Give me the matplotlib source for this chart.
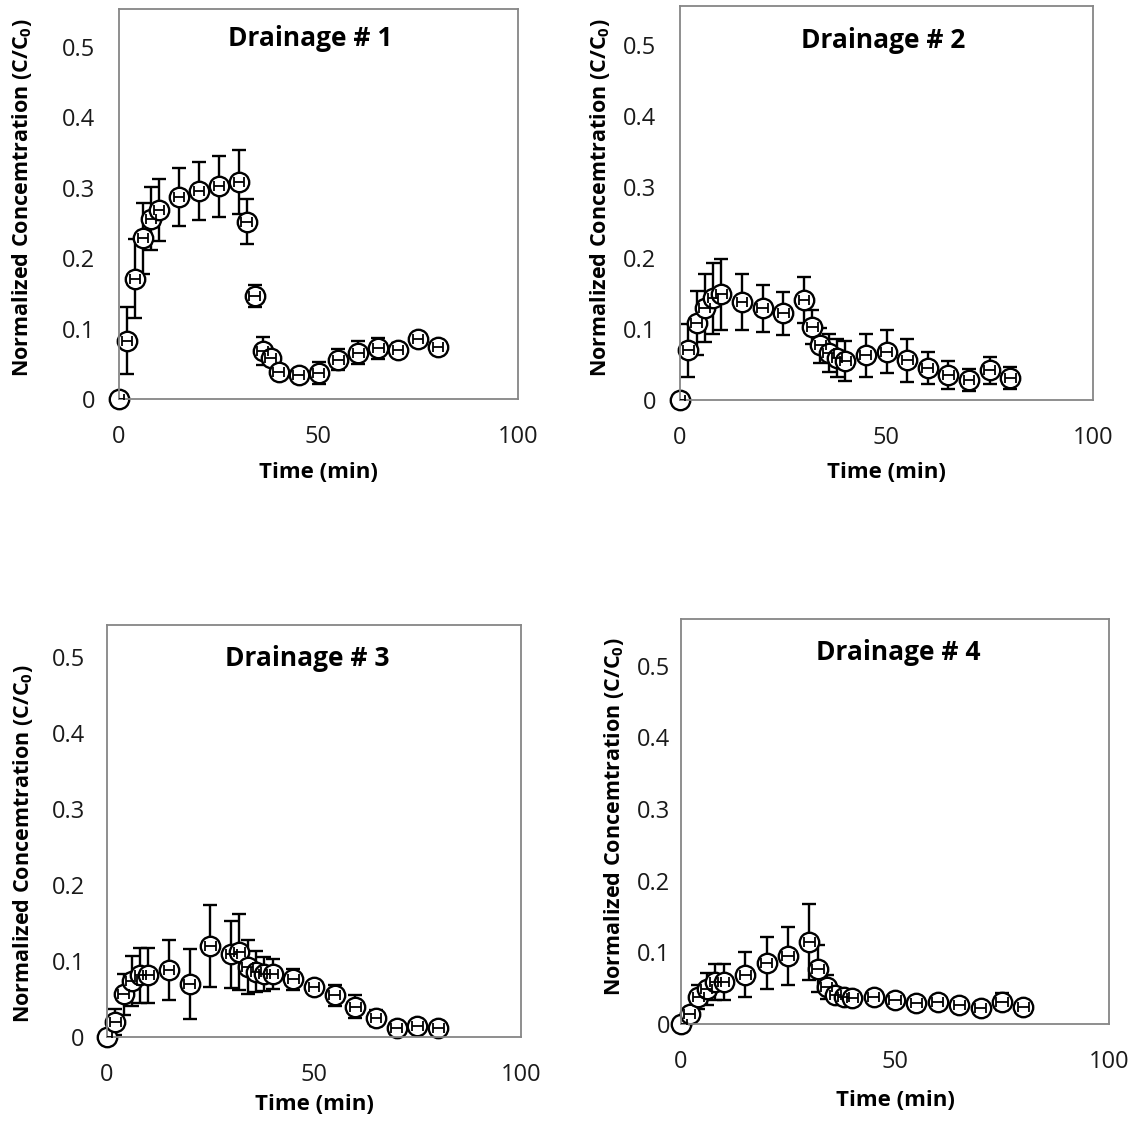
import numpy as np
import matplotlib
matplotlib.use('Agg')
import matplotlib.pyplot as plt

plt.rcParams['font.family'] = ['Open Sans', 'DejaVu Sans']
plt.rcParams['mathtext.fontset'] = 'custom'
plt.rcParams['mathtext.rm'] = 'Open Sans'
plt.rcParams['mathtext.bf'] = 'Open Sans:bold'

# sampling times (min) and normalized concentration with std dev for each drain
t1 = [0, 2, 4, 6, 8, 10, 15, 20, 25, 30, 32, 34, 36, 38, 40, 45, 50, 55, 60, 65, 70, 75, 80]
c1 = [0, 0.083, 0.171, 0.228, 0.256, 0.269, 0.287, 0.295, 0.302, 0.308, 0.252, 0.146,
      0.068, 0.058, 0.039, 0.034, 0.037, 0.056, 0.066, 0.072, 0.070, 0.085, 0.074]
e1 = [0, 0.048, 0.056, 0.050, 0.045, 0.044, 0.041, 0.041, 0.043, 0.045, 0.032, 0.016,
      0.020, 0.007, 0.006, 0.004, 0.015, 0.015, 0.016, 0.015, 0.010, 0.005, 0.004]

t2 = [0, 2, 4, 6, 8, 10, 15, 20, 25, 30, 32, 34, 36, 38, 40, 45, 50, 55, 60, 65, 70, 75, 80]
c2 = [0, 0.070, 0.109, 0.130, 0.143, 0.149, 0.138, 0.129, 0.122, 0.141, 0.103, 0.077,
      0.066, 0.059, 0.055, 0.063, 0.068, 0.056, 0.045, 0.035, 0.028, 0.042, 0.031]
e2 = [0, 0.037, 0.045, 0.048, 0.050, 0.050, 0.039, 0.033, 0.030, 0.032, 0.024, 0.025,
      0.027, 0.027, 0.028, 0.030, 0.030, 0.030, 0.023, 0.020, 0.016, 0.019, 0.015]

t3 = [0, 2, 4, 6, 8, 10, 15, 20, 25, 30, 32, 34, 36, 38, 40, 45, 50, 55, 60, 65, 70, 75, 80]
c3 = [0, 0.020, 0.056, 0.074, 0.081, 0.081, 0.088, 0.070, 0.120, 0.109, 0.112, 0.092,
      0.086, 0.083, 0.083, 0.076, 0.066, 0.055, 0.040, 0.025, 0.012, 0.015, 0.012]
e3 = [0, 0.017, 0.027, 0.033, 0.036, 0.036, 0.039, 0.046, 0.054, 0.044, 0.050, 0.035,
      0.027, 0.022, 0.020, 0.014, 0.008, 0.014, 0.015, 0.010, 0.003, 0.003, 0.003]

t4 = [0, 2, 4, 6, 8, 10, 15, 20, 25, 30, 32, 34, 36, 38, 40, 45, 50, 55, 60, 65, 70, 75, 80]
c4 = [0, 0.014, 0.038, 0.049, 0.059, 0.059, 0.069, 0.085, 0.095, 0.114, 0.077, 0.052,
      0.040, 0.037, 0.036, 0.037, 0.034, 0.029, 0.031, 0.027, 0.022, 0.031, 0.024]
e4 = [0, 0.003, 0.017, 0.022, 0.025, 0.025, 0.031, 0.036, 0.041, 0.053, 0.033, 0.017,
      0.008, 0.005, 0.003, 0.004, 0.003, 0.003, 0.005, 0.007, 0.007, 0.012, 0.005]

t_err = 1.3  # timing uncertainty (min)

titles = ['Drainage # 1', 'Drainage # 2', 'Drainage # 3', 'Drainage # 4']
xticks = [0, 50, 100]
yticks = [0, 0.1, 0.2, 0.3, 0.4, 0.5]
ytick_labels = ['0', '0.1', '0.2', '0.3', '0.4', '0.5']

W, H = 1134, 1122
fig = plt.figure(figsize=(W / 100, H / 100), dpi=100)

# panel boxes in pixels: left, right, top, bottom
boxes = [(119, 518, 9, 399), (680, 1093, 6, 400), (107, 521, 625, 1037), (681, 1109, 619, 1024)]
ytops = [0.554, 0.555, 0.542, 0.565]
ypads = [17, 17, 16, 8]
ylab_x = [22, 600, 23, 614]
ylab_y = [198, 198, 844, 817]
xlab_y = [472, 472, 1105, 1100]
title_xy = [(310, 39), (883, 40), (307, 659), (898, 653)]

series = [(t1, c1, e1), (t2, c2, e2), (t3, c3, e3), (t4, c4, e4)]

for i, (t, c, e) in enumerate(series):
    l, r, tp, b = boxes[i]
    ax = fig.add_axes([l / W, 1 - b / H, (r - l) / W, (b - tp) / H])
    ax.set_xlim(0, 100)
    ax.set_ylim(0, ytops[i])

    # vertical bars under the markers, horizontal bars on top of them
    ax.errorbar(t, c, yerr=e, fmt='none', ecolor='black', elinewidth=1.7,
                capsize=5, capthick=1.7, zorder=1)
    pts, = ax.plot(t, c, 'o', ms=14, mfc='white', mec='black', mew=1.7, zorder=2)
    pts.set_clip_on(False)
    ax.errorbar(t, c, xerr=t_err, fmt='none', ecolor='black', elinewidth=1.3,
                capsize=3.8, capthick=1.3, zorder=3)

    ax.set_xticks(xticks)
    ax.set_yticks(yticks)
    ax.set_yticklabels(ytick_labels)
    ax.tick_params(axis='x', length=0, pad=19, labelsize=17, labelcolor='#1a1a1a')
    ax.tick_params(axis='y', length=0, pad=ypads[i], labelsize=17, labelcolor='#1a1a1a')
    for s in ax.spines.values():
        s.set_color('#868686')
        s.set_linewidth(1.3)

    tx, ty = title_xy[i]
    fig.text(tx / W, 1 - ty / H, titles[i], ha='center', va='center',
             fontsize=19, fontweight='bold')

    fig.text(ylab_x[i] / W, 1 - ylab_y[i] / H, r'Normalized Concemtration (C/C$_\mathbf{0}$)',
             rotation=90, ha='center', va='center', fontsize=15.5, fontweight='bold')
    fig.text((l + r) / 2 / W, 1 - xlab_y[i] / H, 'Time (min)',
             ha='center', va='center', fontsize=16, fontweight='bold')

fig.savefig('out.png', dpi=100)
